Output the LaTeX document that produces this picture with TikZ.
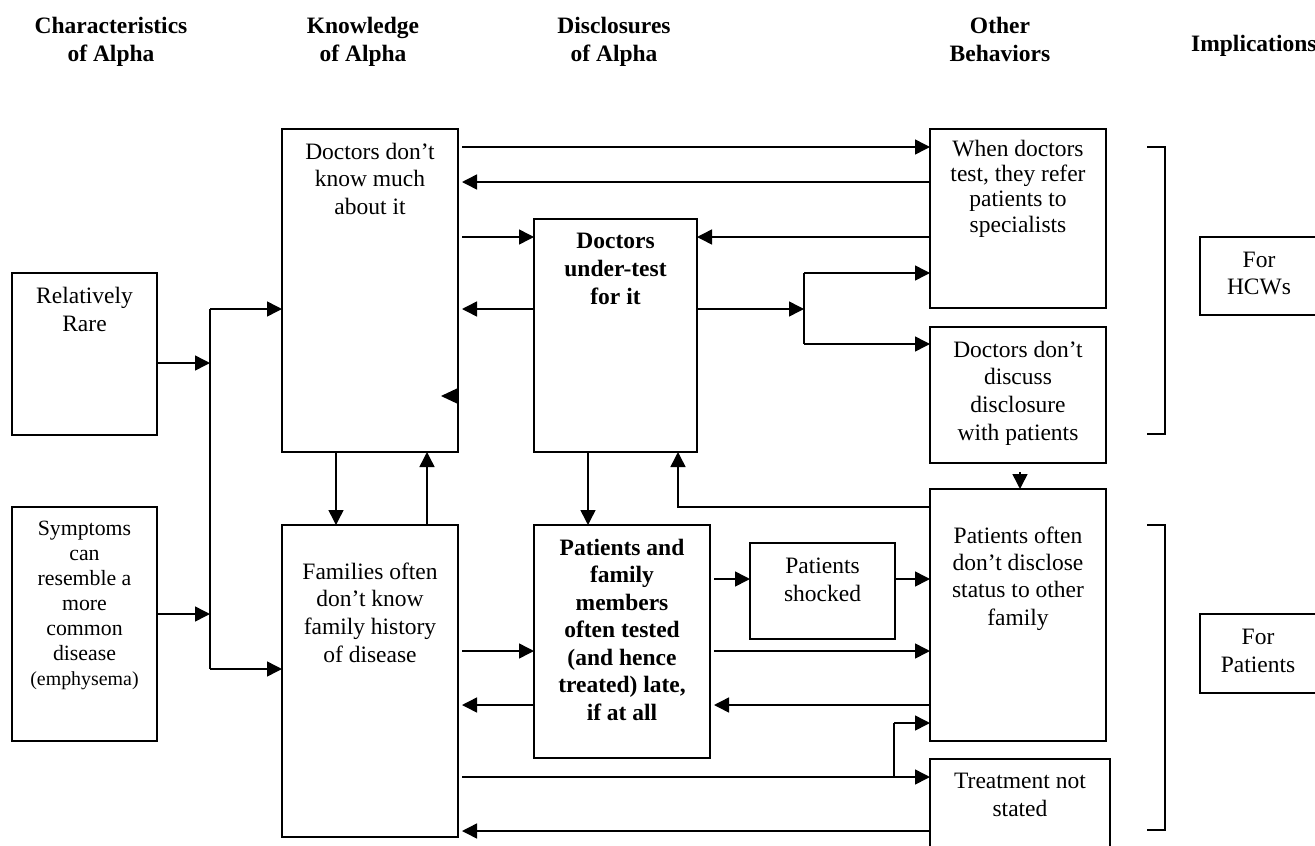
\documentclass[tikz,border=0pt]{standalone}
\usepackage{fontspec}
\setmainfont{Liberation Serif}
\usetikzlibrary{arrows.meta}
\begin{document}
\begin{tikzpicture}[x=1pt,y=-1pt,
  box/.style={draw, line width=1.6pt, inner sep=0pt, outer sep=0pt, anchor=north west},
  txt/.style={align=center, inner sep=0pt, anchor=north, font=\fontsize{23.5}{#1}\selectfont},
  btxt/.style={align=center, inner sep=0pt, anchor=north, font=\fontsize{23.5}{#1}\selectfont\bfseries},
  ln/.style={line width=1.5pt},
  arr/.style={line width=1.5pt, -{Triangle[length=15pt,width=15pt]}},
]
\useasboundingbox (0,0) rectangle (1315,846);

% headers
\node[btxt=28] (hChar) at (111,13.4) {\strut Characteristics\\of Alpha};
\node[btxt=28] (hKnow) at (363,13.4) {\strut Knowledge\\of Alpha};
\node[btxt=28] (hDisc) at (614,13.4) {\strut Disclosures\\of Alpha};
\node[btxt=28] (hOther) at (1000,13.4) {\strut Other\\Behaviors};
\node[inner sep=0pt, anchor=base west, font=\fontsize{23.5}{28}\selectfont\bfseries] (hImpl) at (1191,51) {Implications};

% boxes
\node[box, minimum width=145pt, minimum height=162pt] (rare) at (12,273) {};
\node[box, minimum width=145pt, minimum height=234pt] (sym) at (12,507) {};
\node[box, minimum width=176pt, minimum height=323pt] (dk) at (282,129) {};
\node[box, minimum width=176pt, minimum height=312pt] (fam) at (282,525) {};
\node[box, minimum width=163pt, minimum height=233pt] (ut) at (534,219) {};
\node[box, minimum width=176pt, minimum height=233pt] (pt) at (534,525) {};
\node[box, minimum width=145pt, minimum height=96pt] (sh) at (750,543) {};
\node[box, minimum width=176pt, minimum height=179pt] (wd) at (930,129) {};
\node[box, minimum width=176pt, minimum height=136pt] (dd) at (930,327) {};
\node[box, minimum width=176pt, minimum height=252pt] (po) at (930,489) {};
\node[box, minimum width=180pt, minimum height=120pt] (tr) at (930,759) {};
\node[box, minimum width=150pt, minimum height=78pt] (hcw) at (1200,237) {};
\node[box, minimum width=150pt, minimum height=79pt] (pat) at (1200,614) {};

% texts
\node[txt=28] (tRare) at (84.5,283.4) {\strut Relatively\\Rare};
\node[align=center, inner sep=0pt, anchor=north, font=\fontsize{21.8}{25}\selectfont] (tSym) at (84.5,517.5)
  {\strut Symptoms\\can\\resemble a\\more\\common\\disease\\{\fontsize{19.9}{25}\selectfont (emphysema)}};
\node[txt=27.5] (tDk) at (370,139.75) {\strut Doctors don’t\\know much\\about it};
\node[btxt=28] (tUt) at (615.5,228.4) {\strut Doctors\\under-test\\for it};
\node[txt=27.7] (tFam) at (370,559.6) {\strut Families often\\don’t know\\family history\\of disease};
\node[btxt=27.5] (tPt) at (622,535.75) {\strut Patients and\\family\\members\\often tested\\(and hence\\treated) late,\\if at all};
\node[txt=28] (tSh) at (822.5,553.4) {\strut Patients\\shocked};
\node[txt=25.3] (tWd) at (1018,138.3) {\strut When doctors\\test, they refer\\patients to\\specialists};
\node[txt=27.7] (tDd) at (1018,337.6) {\strut Doctors don’t\\discuss\\disclosure\\with patients};
\node[txt=27.3] (tPo) at (1018,523.9) {\strut Patients often\\don’t disclose\\status to other\\family};
\node[txt=28] (tTr) at (1020,768.4) {\strut Treatment not\\stated};
\node[txt=27] (tHcw) at (1259,248.1) {\strut For\\HCWs};
\node[txt=28] (tPat) at (1258,624.4) {\strut For\\Patients};

% junction coordinates
\coordinate (jA) at (210,363);
\coordinate (jB) at (210,614);
\coordinate (jTop) at (210,309);
\coordinate (jBot) at (210,669);
\coordinate (jC) at (804,309);
\coordinate (jCt) at (804,273);
\coordinate (jCb) at (804,344);
\coordinate (jD) at (894,777);
\coordinate (jDt) at (894,723);
\coordinate (jE) at (678,507);

% left inputs
\draw[arr] (rare.east |- jA) -- (jA);
\draw[arr] (sym.east |- jB) -- (jB);
\draw[ln] (jTop) -- (jBot);
\draw[arr] (jTop) -- (dk.west |- jTop);
\draw[arr] (jBot) -- (fam.west |- jBot);

% dk <-> fam
\draw[arr] (dk.south -| 336,0) -- (fam.north -| 336,0);
\draw[arr] (fam.north -| 427,0) -- (dk.south -| 427,0);

% dk <-> wd, ut
\draw[arr, shorten <=4pt] (dk.east |- 0,147) -- (wd.west |- 0,147);
\draw[arr, shorten >=4pt] (wd.west |- 0,182) -- (dk.east |- 0,182);
\draw[arr, shorten <=4pt] (dk.east |- 0,237) -- (ut.west |- 0,237);
\draw[arr] (wd.west |- 0,237) -- (ut.east |- 0,237);
\draw[arr, shorten >=4pt] (ut.west |- jC) -- (dk.east |- jC);
\fill (dk.east |- 0,388) -- (441,396) -- (dk.east |- 0,404) -- cycle;

% ut -> branch
\draw[arr] (ut.east |- jC) -- (jC);
\draw[ln] (jCt) -- (jCb);
\draw[arr] (jCt) -- (wd.west |- jCt);
\draw[arr] (jCb) -- (dd.west |- jCb);

% ut <-> pt
\draw[arr] (ut.south -| 588,0) -- (pt.north -| 588,0);
\draw[arr] (po.west |- jE) -- (jE) -- (ut.south -| jE);

% dd -> po
\draw[arr, shorten <=9pt] (dd.south -| 1020,0) -- (po.north -| 1020,0);

% pt, sh, po
\draw[arr, shorten <=4pt] (pt.east |- 0,579) -- (sh.west |- 0,579);
\draw[arr] (sh.east |- 0,579) -- (po.west |- 0,579);
\draw[arr, shorten <=4pt] (pt.east |- 0,651) -- (po.west |- 0,651);
\draw[arr, shorten >=4pt] (po.west |- 0,705) -- (pt.east |- 0,705);

% fam <-> pt
\draw[arr, shorten <=4pt] (fam.east |- 0,651) -- (pt.west |- 0,651);
\draw[arr, shorten >=4pt] (pt.west |- 0,705) -- (fam.east |- 0,705);

% fam <-> tr, po
\draw[arr, shorten <=4pt] (fam.east |- jD) -- (tr.west |- jD);
\draw[ln] (jD) -- (jDt);
\draw[arr] (jDt) -- (po.west |- jDt);
\draw[arr, shorten >=4pt] (tr.west |- 0,831) -- (fam.east |- 0,831);

% brackets
\draw[line width=1.6pt] (1147,147) -- (1165,147) -- (1165,434) -- (1147,434);
\draw[line width=1.6pt] (1147,525) -- (1165,525) -- (1165,830) -- (1147,830);
\end{tikzpicture}
\end{document}
